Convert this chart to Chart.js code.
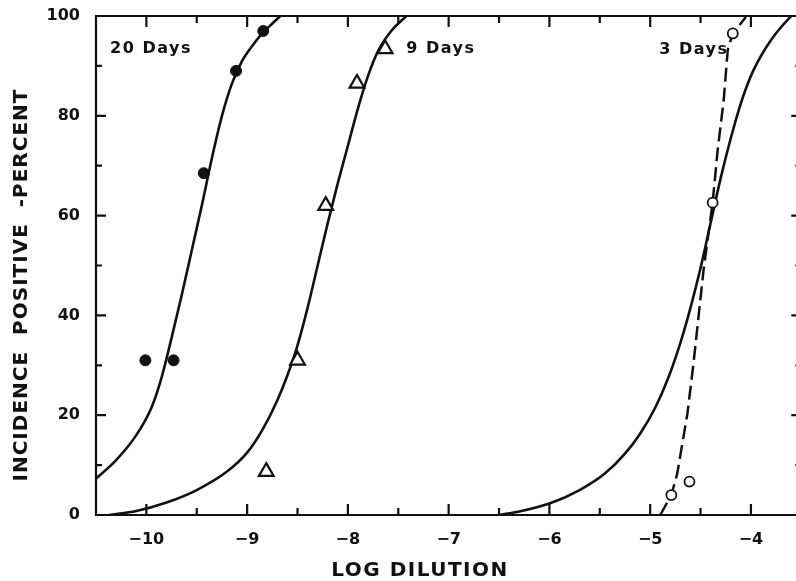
<!DOCTYPE html>
<html>
<head>
<meta charset="utf-8">
<script src="https://cdn.jsdelivr.net/npm/chart.js@4.4.1/dist/chart.umd.min.js"></script>
<style>
html, body { margin: 0; padding: 0; background: #fff; overflow: hidden; }
#wrap { position: relative; width: 812px; height: 581px; }
</style>
</head>
<body>
<div id="wrap"><canvas id="grafica" width="812" height="581"></canvas></div>
<script>
// Ejes
const xTicks = [-10, -9, -8, -7, -6, -5, -4];
const xMinorTicks = [-9.5, -8.5, -7.5, -6.5, -5.5, -4.5];
const yTicks = [0, 20, 40, 60, 80, 100];
const yMinorTicks = [10, 30, 50, 70, 90];

// Puntos observados
const dias20X = [-10.01, -9.73, -9.43, -9.11, -8.84];
const dias20Y = [31, 31, 68.5, 89, 97];
const dias9X = [-8.81, -8.50, -8.22, -7.91, -7.63];
const dias9Y = [8.7, 31, 62, 86.5, 93.4];
const dias3X = [-4.79, -4.61, -4.38, -4.18];
const dias3Y = [4.0, 6.7, 62.6, 96.5];

// Curvas ajustadas
const curva20X = [-10.5, -10.3, -10.1, -9.95, -9.85, -9.75, -9.65, -9.55, -9.45, -9.35, -9.25, -9.15, -9.05, -8.95, -8.85, -8.75, -8.67];
const curva20Y = [7.3, 11, 16, 21.5, 27.5, 35.5, 44, 53, 62, 71.5, 80, 86.5, 91, 94, 96.5, 98.5, 100];
const curva9X = [-10.37, -10.1, -9.8, -9.5, -9.2, -9.0, -8.85, -8.7, -8.6, -8.5, -8.4, -8.3, -8.2, -8.1, -8.0, -7.9, -7.8, -7.7, -7.57, -7.42];
const curva9Y = [0, 0.8, 2.5, 5.0, 8.7, 12.5, 17, 23, 28, 34, 41.5, 50, 58.5, 66.5, 74, 81.5, 88, 93, 97, 100];
const curva3X = [-6.5, -6.3, -6.0, -5.7, -5.45, -5.25, -5.1, -4.95, -4.82, -4.7, -4.6, -4.5, -4.4, -4.3, -4.2, -4.1, -4.0, -3.9, -3.8, -3.7, -3.6];
const curva3Y = [0, 0.7, 2.3, 5.0, 8.3, 12.3, 16.3, 21.5, 27.5, 34.5, 41.5, 49.5, 58.5, 67.5, 75.5, 82.5, 88, 92, 95.2, 97.8, 100];
const guion3X = [-4.90, -4.79, -4.73, -4.63, -4.57, -4.47, -4.38, -4.33, -4.27, -4.23, -4.18, -4.05];
const guion3Y = [0, 4.0, 8.4, 20.4, 30.4, 49.1, 62.6, 73.1, 83.2, 93.2, 96.5, 99.8];

// Rótulos
const rotulos = ['20 Days', '9 Days', '3 Days'];
const rotulosX = [-10.36, -7.42, -4.91];
const rotulosY = [93.4, 93.4, 93.2];
const tituloX = 'LOG DILUTION';
const tituloY = 'INCIDENCE  POSITIVE  -PERCENT';

const NEGRO = '#111';
const FUENTE = '"DejaVu Sans", sans-serif';

const puntos = (xs, ys) => xs.map((x, i) => ({ x: x, y: ys[i] }));

// Marco superior/derecho, marcas hacia dentro, rótulos y títulos
const marco = {
    id: 'marco',
    afterDraw(chart) {
        const { ctx, chartArea: a, scales: { x, y } } = chart;
        ctx.save();
        ctx.strokeStyle = NEGRO;
        ctx.lineWidth = 2.2;
        ctx.beginPath();
        ctx.moveTo(a.left, a.top); ctx.lineTo(a.right, a.top);
        ctx.moveTo(a.right, a.top); ctx.lineTo(a.right, a.bottom);
        ctx.moveTo(a.left, a.top - 1); ctx.lineTo(a.left, a.bottom + 1);
        ctx.moveTo(a.left, a.bottom); ctx.lineTo(a.right, a.bottom);
        const marcaX = (v, len) => {
            const px = x.getPixelForValue(v);
            ctx.moveTo(px, a.bottom); ctx.lineTo(px, a.bottom - len);
            ctx.moveTo(px, a.top); ctx.lineTo(px, a.top + len);
        };
        const marcaY = (v, len) => {
            const py = y.getPixelForValue(v);
            ctx.moveTo(a.left, py); ctx.lineTo(a.left + len, py);
            ctx.moveTo(a.right, py); ctx.lineTo(a.right - len, py);
        };
        xTicks.forEach(v => marcaX(v, 11));
        xMinorTicks.forEach(v => marcaX(v, 7));
        yTicks.forEach(v => marcaY(v, 10));
        yMinorTicks.forEach(v => marcaY(v, 6));
        ctx.stroke();

        ctx.fillStyle = NEGRO;
        ctx.font = 'bold 16px ' + FUENTE;
        ctx.letterSpacing = '1.5px';
        ctx.textBaseline = 'middle';
        ctx.textAlign = 'left';
        rotulos.forEach((t, i) => {
            ctx.fillText(t, x.getPixelForValue(rotulosX[i]), y.getPixelForValue(rotulosY[i]));
        });

        ctx.font = 'bold 20px ' + FUENTE;
        ctx.letterSpacing = '1.5px';
        ctx.textAlign = 'center';
        ctx.fillText(tituloX, 420, 571);
        ctx.letterSpacing = '1px';
        ctx.translate(22, 285);
        ctx.rotate(-Math.PI / 2);
        ctx.fillText(tituloY, 0, 0);
        ctx.restore();
    }
};

const curva = (xs, ys, extra) => Object.assign({
    type: 'line',
    data: puntos(xs, ys),
    borderColor: NEGRO,
    borderWidth: 2.6,
    pointRadius: 0,
    fill: false,
    cubicInterpolationMode: 'monotone',
    order: 2
}, extra || {});

const ctx = document.getElementById('grafica').getContext('2d');
new Chart(ctx, {
    type: 'scatter',
    data: {
        datasets: [
            {
                label: '20 Days',
                data: puntos(dias20X, dias20Y),
                pointStyle: 'circle',
                pointRadius: 5.5,
                backgroundColor: NEGRO,
                borderColor: NEGRO,
                borderWidth: 1,
                order: 0
            },
            {
                label: '9 Days',
                data: puntos(dias9X, dias9Y),
                pointStyle: 'triangle',
                pointRadius: 8.5,
                backgroundColor: '#fff',
                borderColor: NEGRO,
                borderWidth: 2.2,
                order: 0
            },
            {
                label: '3 Days',
                data: puntos(dias3X, dias3Y),
                pointStyle: 'circle',
                pointRadius: 5,
                backgroundColor: '#fff',
                borderColor: NEGRO,
                borderWidth: 1.8,
                order: 0
            },
            curva(curva20X, curva20Y),
            curva(curva9X, curva9Y),
            curva(curva3X, curva3Y),
            curva(guion3X, guion3Y, { borderDash: [14, 6], borderWidth: 2.5, cubicInterpolationMode: 'default', tension: 0 })
        ]
    },
    options: {
        responsive: false,
        animation: false,
        layout: { padding: { left: 0, top: 16, right: 8, bottom: 0 } },
        plugins: { legend: { display: false }, tooltip: { enabled: false } },
        scales: {
            x: {
                type: 'linear',
                min: -10.5,
                max: -3.5,
                afterBuildTicks: s => { s.ticks = xTicks.map(v => ({ value: v })); },
                afterFit: s => { s.height = 66; s.paddingLeft = 0; s.paddingRight = 0; },
                grid: { display: false, drawTicks: false },
                border: { display: false },
                ticks: {
                    color: NEGRO,
                    padding: 15,
                    maxRotation: 0,
                    font: { family: FUENTE, weight: 'bold', size: 16 },
                    callback: v => String(v).replace('-', '\u2212')
                }
            },
            y: {
                type: 'linear',
                min: 0,
                max: 100,
                afterBuildTicks: s => { s.ticks = yTicks.map(v => ({ value: v })); },
                afterFit: s => { s.width = 96; s.paddingTop = 0; s.paddingBottom = 0; },
                grid: { display: false, drawTicks: false },
                border: { display: false },
                ticks: {
                    color: NEGRO,
                    padding: 16,
                    font: { family: FUENTE, weight: 'bold', size: 16 }
                }
            }
        }
    },
    plugins: [marco]
});
</script>
</body>
</html>
